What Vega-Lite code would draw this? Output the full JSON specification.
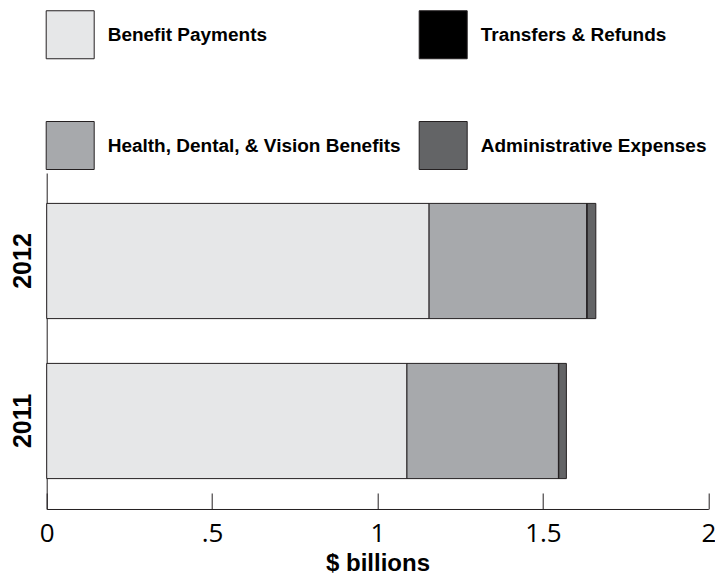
{
  "$schema": "https://vega.github.io/schema/vega-lite/v6.json",
  "width": 661.6,
  "height": 336,
  "autosize": {"type": "none"},
  "padding": {"left": 46.7, "top": 173, "right": 7, "bottom": 70},
  "background": "white",
  "config": {"view": {"stroke": null}},
  "data": {
    "values": [
      {"year": "2012", "category": "Benefit Payments", "value": 1.156},
      {"year": "2012", "category": "Health, Dental, & Vision Benefits", "value": 0.477},
      {"year": "2012", "category": "Transfers & Refunds", "value": 0.001},
      {"year": "2012", "category": "Administrative Expenses", "value": 0.026},
      {"year": "2011", "category": "Benefit Payments", "value": 1.089},
      {"year": "2011", "category": "Health, Dental, & Vision Benefits", "value": 0.458},
      {"year": "2011", "category": "Transfers & Refunds", "value": 0.001},
      {"year": "2011", "category": "Administrative Expenses", "value": 0.023}
    ]
  },
  "transform": [
    {"calculate": "indexof(['Benefit Payments','Health, Dental, & Vision Benefits','Transfers & Refunds','Administrative Expenses'], datum.category)", "as": "stackOrder"}
  ],
  "mark": {"type": "bar", "stroke": "#231f20", "strokeWidth": 1},
  "encoding": {
    "y": {
      "field": "year",
      "type": "nominal",
      "sort": "descending",
      "scale": {"paddingInner": 0.28, "paddingOuter": 0.19},
      "axis": {
        "title": null,
        "ticks": false,
        "labelAngle": 270,
        "labelFont": "Liberation Sans",
        "labelFontWeight": "bold",
        "labelFontSize": 25,
        "labelColor": "#000000",
        "labelPadding": 11,
        "domainColor": "#231f20",
        "domainWidth": 1
      }
    },
    "x": {
      "field": "value",
      "type": "quantitative",
      "stack": "zero",
      "scale": {"domain": [0, 2], "nice": false},
      "axis": {
        "values": [0, 0.5, 1, 1.5, 2],
        "format": "~g",
        "labelExpr": "replace(datum.label, '0.', '.')",
        "grid": false,
        "tickSize": -16,
        "tickColor": "#231f20",
        "tickWidth": 1,
        "domainColor": "#231f20",
        "domainWidth": 1,
        "labelFlush": false,
        "labelOverlap": false,
        "labelFont": "Open Sans",
        "labelFontSize": 26,
        "labelColor": "#000000",
        "labelPadding": 28,
        "title": "$ billions",
        "titleFont": "Liberation Sans",
        "titleFontWeight": "bold",
        "titleFontSize": 24,
        "titleColor": "#000000",
        "titlePadding": 5
      }
    },
    "color": {
      "field": "category",
      "type": "nominal",
      "scale": {
        "domain": ["Benefit Payments", "Transfers & Refunds", "Health, Dental, & Vision Benefits", "Administrative Expenses"],
        "range": ["#e6e7e8", "#000000", "#a7a9ac", "#636466"]
      },
      "legend": {
        "title": null,
        "orient": "none",
        "legendX": -1,
        "legendY": -163,
        "direction": "horizontal",
        "columns": 2,
        "symbolType": "square",
        "symbolSize": 2304,
        "symbolStrokeColor": "#231f20",
        "symbolStrokeWidth": 1,
        "symbolOpacity": 1,
        "labelFont": "Liberation Sans",
        "labelFontWeight": "bold",
        "labelFontSize": 19,
        "labelColor": "#000000",
        "labelLimit": 400,
        "labelOffset": 13,
        "rowPadding": 58,
        "columnPadding": 15,
        "padding": 0
      }
    },
    "order": {"field": "stackOrder", "type": "quantitative"}
  }
}
